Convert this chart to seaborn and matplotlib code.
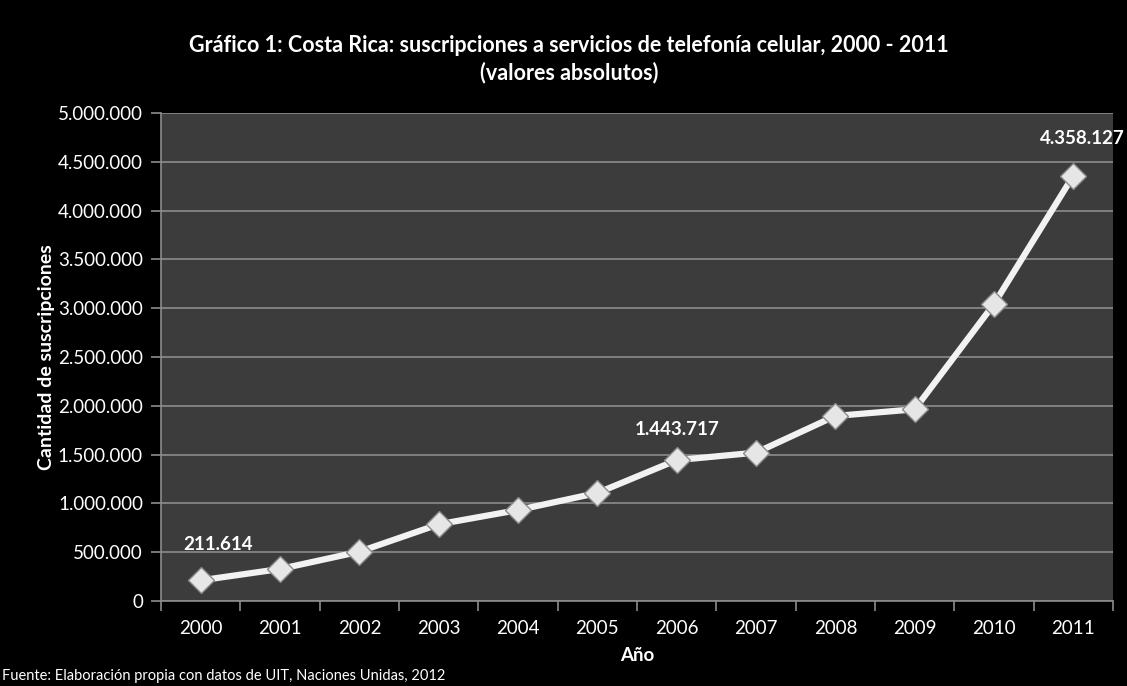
import numpy as np
import pandas as pd
import matplotlib
matplotlib.use("Agg")
import matplotlib.pyplot as plt
import seaborn as sns
from matplotlib.ticker import FuncFormatter, FixedLocator

years = ["2000", "2001", "2002", "2003", "2004", "2005",
         "2006", "2007", "2008", "2009", "2010", "2011"]
subscriptions = [211614, 328000, 505000, 786000, 932000, 1107000,
                 1443717, 1520000, 1896000, 1964000, 3043000, 4358127]
labeled_years = ["2000", "2006", "2011"]
# label nudges (pixels) as placed in the original
label_dx = {"2000": 17, "2006": 0, "2011": 9}
label_dy = {"2000": 36, "2006": 31, "2011": 37}

df = pd.DataFrame({"year": years, "subs": subscriptions})
df["pos"] = np.arange(len(df))

sns.set_style("dark")
plt.rcParams["font.family"] = ["Lato", "DejaVu Sans"]

fig = plt.figure(figsize=(11.27, 6.86), dpi=100, facecolor="black")
ax = fig.add_axes([0.1429, 0.1239, 0.8447, 0.7114])
ax.set_facecolor("#3c3c3c")

sns.lineplot(data=df, x="pos", y="subs", ax=ax, color="#f2f2f2", linewidth=4.5,
             marker="D", markersize=13, markerfacecolor="#e6e6e6",
             markeredgecolor="#8a8a8a", markeredgewidth=1.0, zorder=5)

ax.set_xlim(-0.5, len(years) - 0.5)
ax.set_ylim(0, 5_000_000)
ax.set_yticks(np.arange(0, 5_000_001, 500_000))
ax.yaxis.set_major_formatter(FuncFormatter(lambda v, p: f"{int(v):,}".replace(",", ".")))
ax.set_xticks(df["pos"])
ax.set_xticklabels(years)
ax.xaxis.set_minor_locator(FixedLocator(np.arange(-0.5, len(years), 1.0)))

ax.grid(axis="y", color="#8c8c8c", linewidth=1.2)
ax.grid(axis="x", visible=False)
for side in ["top", "right"]:
    ax.spines[side].set_visible(False)
for side in ["left", "bottom"]:
    ax.spines[side].set_visible(True)
    ax.spines[side].set_color("#8c8c8c")
    ax.spines[side].set_linewidth(1.2)

ax.tick_params(axis="y", which="major", colors="white", labelsize=13.5, length=7,
               width=1.2, color="#8c8c8c", left=True, pad=6)
ax.tick_params(axis="x", which="major", colors="white", labelsize=13.5, length=0, pad=14)
ax.tick_params(axis="x", which="minor", length=7, width=1.2, color="#8c8c8c", bottom=True)

ax.set_xlabel("Año", color="white", fontsize=13.5, fontweight="bold", labelpad=7)
ax.set_ylabel("Cantidad de suscripciones", color="white", fontsize=14,
              fontweight="bold", labelpad=2)

for _, r in df[df["year"].isin(labeled_years)].iterrows():
    ax.annotate(f"{r['subs']:,}".replace(",", "."), (r["pos"], r["subs"]),
                xytext=(label_dx[r["year"]], label_dy[r["year"]]), textcoords="offset pixels",
                ha="center", va="center", color="white", fontsize=13.5,
                fontweight="bold", annotation_clip=False)

fig.text(0.505, 0.934, "Gráfico 1: Costa Rica: suscripciones a servicios de telefonía celular, 2000 - 2011",
         ha="center", va="center", color="white", fontsize=15.5, fontweight="bold")
fig.text(0.505, 0.894, "(valores absolutos)", ha="center", va="center", color="white",
         fontsize=15.5, fontweight="bold")
fig.text(0.002, 0.005, "Fuente: Elaboración propia con datos de UIT, Naciones Unidas, 2012",
         ha="left", va="bottom", color="white", fontsize=10.5)

fig.savefig("out.png", dpi=100, facecolor="black")
